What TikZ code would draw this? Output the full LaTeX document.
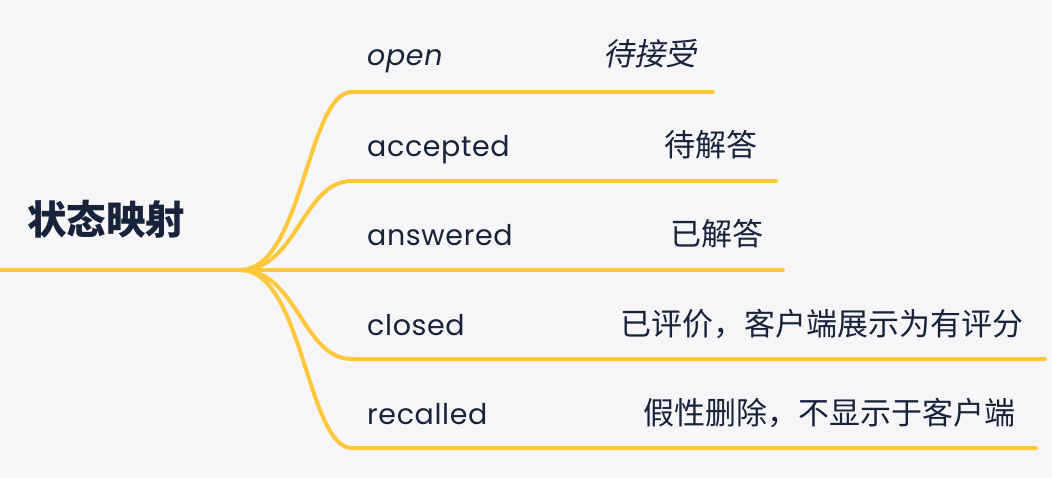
\documentclass[tikz,border=0pt]{standalone}
\usepackage{fontspec}
\setmainfont{Poppins}[LetterSpace=2.2]
\newfontfamily\cjk{Noto Sans CJK SC}
\newfontfamily\cjkit[FakeSlant=0.2]{Noto Sans CJK SC}
\definecolor{bg}{HTML}{F6F6F9}
\definecolor{ink}{HTML}{17233A}
\definecolor{gold}{HTML}{FFC83A}
\tikzset{
  branch/.style={draw=gold, line width=4pt, line cap=round},
  key/.style={inner sep=0pt, anchor=base west, text=ink, font=\fontsize{28.5}{32}\selectfont},
  val/.style={inner sep=0pt, anchor=base east, text=ink, font=\cjk\fontsize{31}{35}\selectfont},
  rootlabel/.style={inner sep=0pt, anchor=base west, text=ink, font=\cjk\bfseries\fontsize{39.5}{43}\selectfont}
}
\begin{document}
\begin{tikzpicture}[x=1pt,y=-1pt]
\useasboundingbox (0,0) rectangle (1052,478);
\fill[bg] (0,0) rectangle (1052,478);
% coordinates
\coordinate (r0) at (0,270);
\coordinate (hub) at (240,270);
\coordinate (s1) at (352,92);  \coordinate (e1) at (713,92);
\coordinate (s2) at (352,181); \coordinate (e2) at (776,181);
\coordinate (e3) at (783,270);
\coordinate (s4) at (352,359); \coordinate (e4) at (1045,359);
\coordinate (s5) at (352,448); \coordinate (e5) at (1036,448);
% lines
\draw[branch] (r0) -- (hub);
\draw[branch] (hub) .. controls +(63,0) and +(-45,0) .. (s1) -- (e1);
\draw[branch] (hub) .. controls +(58,0) and +(-50,0) .. (s2) -- (e2);
\draw[branch] (hub) -- (e3);
\draw[branch] (hub) .. controls +(58,0) and +(-50,0) .. (s4) -- (e4);
\draw[branch] (hub) .. controls +(63,0) and +(-45,0) .. (s5) -- (e5);
% root
\node[rootlabel] (root) at (27,235) {状态映射};
% keys
\node[key, font=\itshape\fontsize{28.5}{32}\selectfont] (k1) at (367,66) {open};
\node[key] (k2) at (367,157) {accepted};
\node[key] (k3) at (367,246) {answered};
\node[key] (k4) at (367,335) {closed};
\node[key] (k5) at (367,424) {recalled};
% values
\node[val, font=\cjkit\fontsize{31}{35}\selectfont] (v1) at (697,66) {待接受};
\node[val] (v2) at (758,157) {待解答};
\node[val] (v3) at (764,246) {已解答};
\node[val] (v4) at (1024,335) {已评价，客户端展示为有评分};
\node[val] (v5) at (1016,424) {假性删除，不显示于客户端};
\end{tikzpicture}
\end{document}
